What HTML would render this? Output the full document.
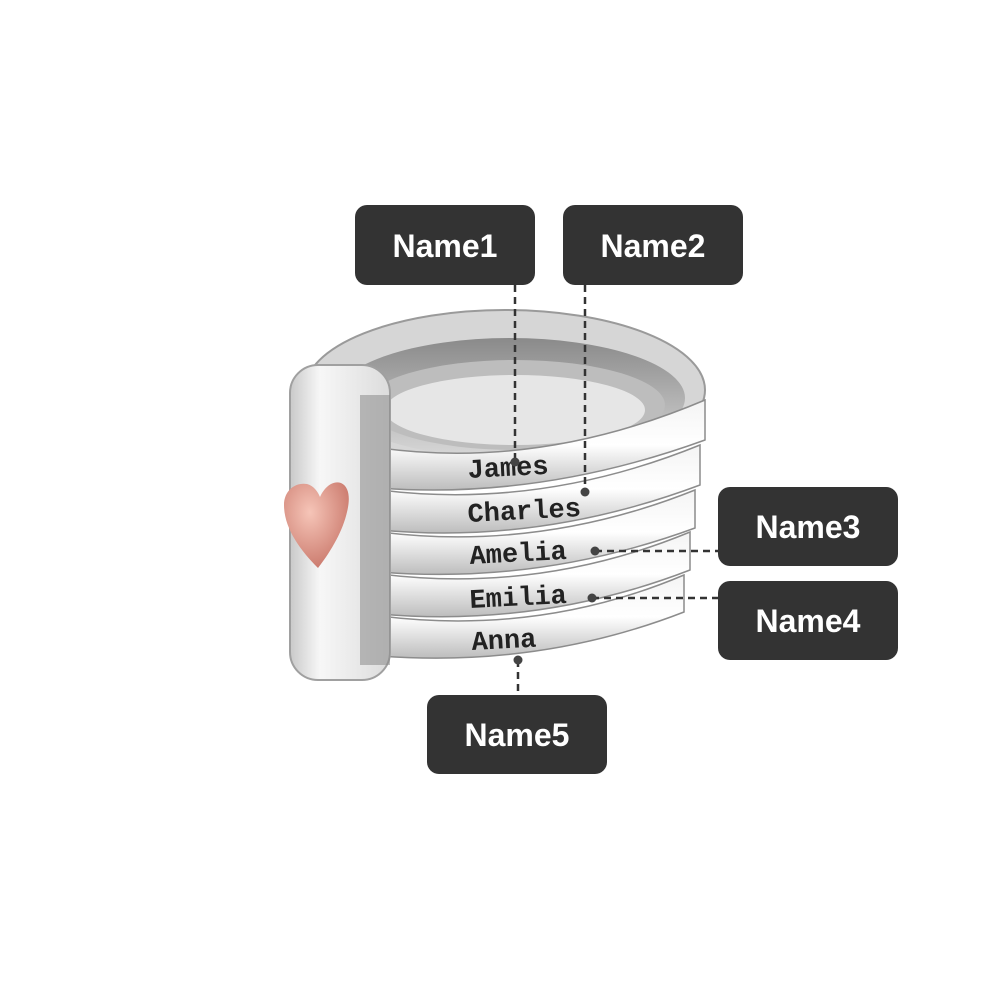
<!DOCTYPE html>
<html><head><meta charset="utf-8"><style>
html,body{margin:0;padding:0;background:#fff;}
svg{display:block}
.lbl{font-family:"Liberation Sans",sans-serif;font-weight:bold;font-size:32px;fill:#fff;}
.nm{font-family:"Liberation Mono",monospace;font-weight:bold;font-size:27px;fill:#222;}
</style></head><body>
<svg width="1000" height="1000" viewBox="0 0 1000 1000" xmlns="http://www.w3.org/2000/svg">
<defs>
<linearGradient id="band" x1="0" y1="0" x2="0" y2="1">
<stop offset="0" stop-color="#f4f4f4"/><stop offset="0.5" stop-color="#ffffff"/><stop offset="1" stop-color="#bdbdbd"/>
</linearGradient>
<linearGradient id="inner" x1="0" y1="0" x2="0" y2="1">
<stop offset="0" stop-color="#8a8a8a"/><stop offset="1" stop-color="#d8d8d8"/>
</linearGradient>
<linearGradient id="clasp" x1="0" y1="0" x2="1" y2="0">
<stop offset="0" stop-color="#c9c9c9"/><stop offset="0.3" stop-color="#f7f7f7"/><stop offset="1" stop-color="#dcdcdc"/>
</linearGradient>
<radialGradient id="heart" cx="0.4" cy="0.35" r="0.7">
<stop offset="0" stop-color="#f6c5b8"/><stop offset="1" stop-color="#c9776a"/>
</radialGradient>
</defs>
<ellipse cx="505" cy="390" rx="200" ry="80" fill="#d6d6d6" stroke="#9a9a9a" stroke-width="2"/>
<ellipse cx="510" cy="398" rx="175" ry="60" fill="url(#inner)"/>
<ellipse cx="515" cy="405" rx="150" ry="45" fill="#bdbdbd"/>
<ellipse cx="515" cy="410" rx="130" ry="35" fill="#e6e6e6"/>
<g stroke="#8c8c8c" stroke-width="1.5">
<path d="M380 448 Q540 470 705 400 L705 440 Q540 500 380 488 Z" fill="url(#band)"/>
<path d="M380 490 Q540 510 700 445 L700 485 Q540 545 380 530 Z" fill="url(#band)"/>
<path d="M380 532 Q540 552 695 490 L695 528 Q540 585 380 572 Z" fill="url(#band)"/>
<path d="M380 574 Q540 594 690 532 L690 570 Q540 628 380 614 Z" fill="url(#band)"/>
<path d="M380 616 Q540 636 684 575 L684 612 Q540 668 380 656 Z" fill="url(#band)"/>
</g>
<rect x="290" y="365" width="100" height="315" rx="28" fill="url(#clasp)" stroke="#a0a0a0" stroke-width="2"/>
<rect x="360" y="395" width="30" height="270" fill="#8a8a8a" opacity="0.55"/>
<path d="M318 568 C300 550 284 528 284 505 C284 490 296 482 307 484 C314 486 318 492 320 497 C324 488 332 480 341 483 C350 487 350 500 347 512 C343 530 332 550 318 568 Z" fill="url(#heart)"/>
<text class="nm" x="468" y="478" transform="rotate(-3 468 478)">James</text>
<text class="nm" x="468" y="522" transform="rotate(-3 468 522)">Charles</text>
<text class="nm" x="470" y="564" transform="rotate(-3 470 564)">Amelia</text>
<text class="nm" x="470" y="608" transform="rotate(-3 470 608)">Emilia</text>
<text class="nm" x="472" y="650" transform="rotate(-3 472 650)">Anna</text>
<g stroke="#333" stroke-width="2.5" stroke-dasharray="7,5" fill="none">
<line x1="515" y1="285" x2="515" y2="462"/>
<line x1="585" y1="285" x2="585" y2="492"/>
<line x1="595" y1="551" x2="718" y2="551"/>
<line x1="592" y1="598" x2="718" y2="598"/>
<line x1="518" y1="660" x2="518" y2="695"/>
</g>
<g fill="#444">
<circle cx="515" cy="462" r="4.5"/><circle cx="585" cy="492" r="4.5"/>
<circle cx="595" cy="551" r="4.5"/><circle cx="592" cy="598" r="4.5"/>
<circle cx="518" cy="660" r="4.5"/>
</g>
<g fill="#333">
<rect x="355" y="205" width="180" height="80" rx="12"/>
<rect x="563" y="205" width="180" height="80" rx="12"/>
<rect x="718" y="487" width="180" height="79" rx="12"/>
<rect x="718" y="581" width="180" height="79" rx="12"/>
<rect x="427" y="695" width="180" height="79" rx="12"/>
</g>
<text class="lbl" x="445" y="257" text-anchor="middle">Name1</text>
<text class="lbl" x="653" y="257" text-anchor="middle">Name2</text>
<text class="lbl" x="808" y="538" text-anchor="middle">Name3</text>
<text class="lbl" x="808" y="632" text-anchor="middle">Name4</text>
<text class="lbl" x="517" y="746" text-anchor="middle">Name5</text>
</svg>
</body></html>
